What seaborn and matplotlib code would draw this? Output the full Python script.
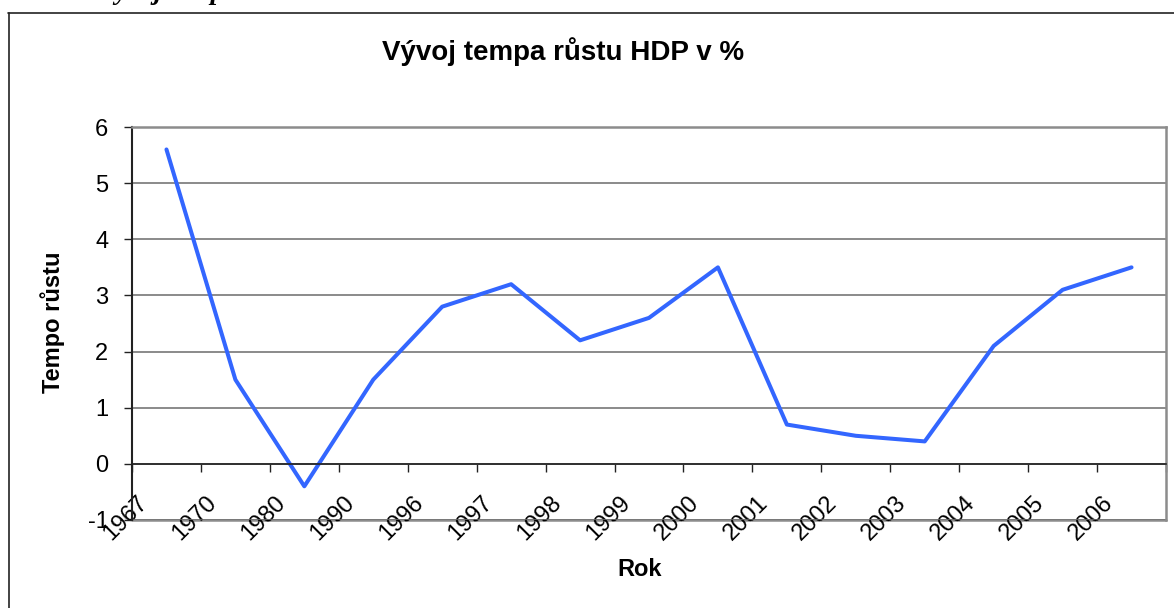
import numpy as np
import matplotlib
matplotlib.use("Agg")
import matplotlib.pyplot as plt
from matplotlib.lines import Line2D
from matplotlib.transforms import ScaledTranslation
import seaborn as sns

# data
roky = ['1967', '1970', '1980', '1990', '1996', '1997', '1998', '1999',
        '2000', '2001', '2002', '2003', '2004', '2005', '2006']
tempo = [5.6, 1.5, -0.4, 1.5, 2.8, 3.2, 2.2, 2.6,
         3.5, 0.7, 0.5, 0.4, 2.1, 3.1, 3.5]

sns.set_theme(style='white')
plt.rcParams['font.family'] = ['Liberation Sans', 'DejaVu Sans']
plt.rcParams['axes.unicode_minus'] = False
plt.rcParams['text.color'] = 'black'

W, H = 1174, 608
fig = plt.figure(figsize=(W / 100, H / 100), dpi=100)
ax = fig.add_axes([132 / W, 1 - 520 / H, (1166 - 132) / W, (520 - 127) / H])

# body: category centres between tick marks (Excel style)
pozice = np.arange(len(roky)) + 0.5
sns.lineplot(x=pozice, y=tempo, color='#3366ff', linewidth=2.9, ax=ax)

ax.set_xlim(0, len(roky))
ax.set_ylim(-1, 6)
ax.set_yticks(range(-1, 7))
ax.yaxis.grid(True, color='#6b6b6b', linewidth=1.1)
ax.set_axisbelow(True)

# x axis crosses at 0
ax.spines['bottom'].set_position(('data', 0))
ax.spines['bottom'].set_color('#222222')
ax.spines['bottom'].set_linewidth(1.2)
ax.spines['left'].set_color('#222222')
ax.spines['left'].set_linewidth(1.5)
for s in ['top', 'right']:
    ax.spines[s].set_color('#8c8c8c')
    ax.spines[s].set_linewidth(1.8)
ax.axhline(-1, color='#8c8c8c', linewidth=1.8, clip_on=False, zorder=0.5)

ax.set_xticks(np.arange(len(roky) + 1))
ax.set_xticklabels(roky + [''])
ax.tick_params(axis='x', direction='out', length=6, width=1, color='#222222',
               pad=14, labelsize=17, labelcolor='black', bottom=True)
ax.tick_params(axis='y', direction='out', length=6, width=1, color='#222222',
               pad=11, labelsize=17, labelcolor='black', left=True)
posun = ScaledTranslation(-6 / 100, 0, fig.dpi_scale_trans)
for lab in ax.get_xticklabels():
    lab.set_rotation(45)
    lab.set_ha('center')
    lab.set_transform(lab.get_transform() + posun)

ax.set_xlabel('')
ax.set_ylabel('')
fig.text(53 / W, 1 - 322 / H, 'Tempo růstu', rotation=90, ha='center', va='center',
         fontsize=17, fontweight='bold')
fig.text(640 / W, 1 - 569 / H, 'Rok', ha='center', va='center',
         fontsize=17, fontweight='bold')
fig.text(563 / W, 1 - 52 / H, 'Vývoj tempa růstu HDP v %', ha='center', va='center',
         fontsize=20, fontweight='bold')

# outer chart frame (cut off on the right and bottom)
fig.add_artist(Line2D([8.5 / W, 8.5 / W], [1 - 13 / H, 0], transform=fig.transFigure,
                      color='#222222', linewidth=1.2))
fig.add_artist(Line2D([8 / W, 1], [1 - 13 / H, 1 - 13 / H], transform=fig.transFigure,
                      color='#222222', linewidth=1.2))

# caption above the chart, mostly outside the picture
fig.text(97 / W, 1 + 1 / H, 'Vývoj tempa růstu HDP', ha='left', va='baseline',
         fontsize=20, fontweight='bold', fontstyle='italic',
         family=['Liberation Serif', 'DejaVu Serif'])

fig.savefig('out.png', dpi=100)
